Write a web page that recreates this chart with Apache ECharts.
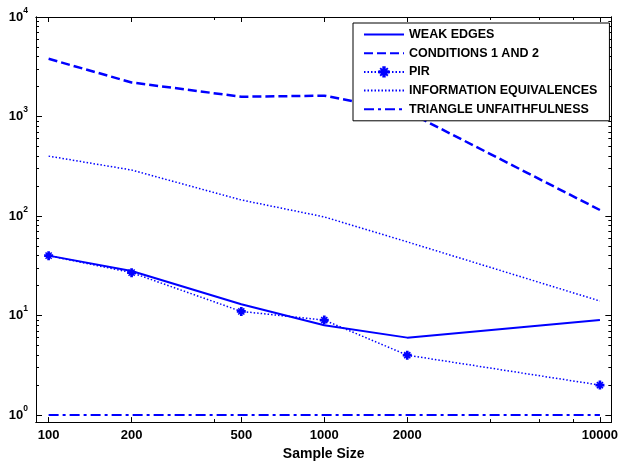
<!DOCTYPE html>
<html><head><meta charset="utf-8">
<script src="https://cdn.jsdelivr.net/npm/echarts@6/dist/echarts.min.js"></script>
<style>html,body{margin:0;padding:0;background:#fff}#c{width:621px;height:466px}</style>
</head><body><div id="c"></div>
<script>
const sampleSizes = [100, 200, 500, 1000, 2000, 10000];
const weakEdges = [40, 28, 13, 8, 6, 9];
const conditions12 = [3800, 2200, 1580, 1620, 1120, 115];
const pir = [40, 27, 11, 9, 4, 2];
const infoEquiv = [400, 290, 145, 98, 55, 14];
const triangleUnf = [1, 1, 1, 1, 1, 1];
const seriesNames = ['WEAK EDGES', 'CONDITIONS 1 AND 2', 'PIR', 'INFORMATION EQUIVALENCES', 'TRIANGLE UNFAITHFULNESS'];
const xTickLabels = [100, 200, 500, 1000, 2000, 10000];
const xMinorTicks = [400, 4000, 6000, 8000];
const yMajorTicks = [1, 10, 100, 1000, 10000];
const yMinorTicks = [];
[1, 10, 100, 1000].forEach(d => { for (let k = 2; k <= 9; k++) yMinorTicks.push(d * k); });

const FONT = '"Liberation Sans", Arial, sans-serif';
const BLUE = '#0000ff';
const X_MIN = 90, X_MAX = 11000, Y_MIN = 0.85, Y_MAX = 10000;

function xAx(pos, ticks, len, withLabel) {
  return {
    type: 'log', logBase: 10, min: X_MIN, max: X_MAX, position: pos,
    axisLine: { show: true, onZero: false, lineStyle: { color: '#000', width: 1 } },
    axisTick: { show: true, inside: true, length: len, customValues: ticks, lineStyle: { color: '#000', width: 1 } },
    axisLabel: withLabel ? { show: true, customValues: ticks, color: '#000', fontFamily: FONT, fontWeight: 'bold', fontSize: 13, margin: 7, formatter: v => String(v) } : { show: false },
    splitLine: { show: false }, minorTick: { show: false },
    name: withLabel ? 'Sample Size' : '', nameLocation: 'middle', nameGap: 21,
    nameTextStyle: { color: '#000', fontFamily: FONT, fontWeight: 'bold', fontSize: 14 }
  };
}
function yAx(pos, ticks, len, withLabel) {
  return {
    type: 'log', logBase: 10, min: Y_MIN, max: Y_MAX, position: pos,
    axisLine: { show: true, onZero: false, lineStyle: { color: '#000', width: 1 } },
    axisTick: { show: true, inside: true, length: len, customValues: ticks, lineStyle: { color: '#000', width: 1 } },
    axisLabel: withLabel ? {
      show: true, customValues: ticks, margin: 8,
      formatter: v => '{b|10}{s|' + Math.round(Math.log10(v)) + '}',
      rich: {
        b: { fontFamily: FONT, fontWeight: 'bold', fontSize: 13, color: '#000', lineHeight: 22 },
        s: { fontFamily: FONT, fontWeight: 'bold', fontSize: 8.5, color: '#000', lineHeight: 10, verticalAlign: 'top' }
      }
    } : { show: false },
    splitLine: { show: false }, minorTick: { show: false }
  };
}

const star = 'path://M3.5,0H6.5V3.5H10V6.5H6.5V10H3.5V6.5H0V3.5H3.5Z M1,2.2L2.2,1L9,7.8L7.8,9Z M7.8,1L9,2.2L2.2,9L1,7.8Z';

function mk(name, vals, lineStyle, extra) {
  return Object.assign({
    name: name, type: 'line', xAxisIndex: 0, yAxisIndex: 0,
    data: sampleSizes.map((x, i) => [x, vals[i]]),
    symbol: 'none', lineStyle: Object.assign({ color: BLUE }, lineStyle),
    itemStyle: { color: BLUE }, animation: false, silent: true
  }, extra || {});
}

const chart = echarts.init(document.getElementById('c'), null, { renderer: 'canvas' });
chart.setOption({
  backgroundColor: '#fff',
  animation: false,
  grid: { left: 36, right: 6, top: 17, bottom: 43, containLabel: false },
  xAxis: [
    xAx('bottom', xTickLabels, 5, true),
    xAx('bottom', xMinorTicks, 3, false),
    xAx('top', xTickLabels, 5, false),
    xAx('top', xMinorTicks, 3, false)
  ],
  yAxis: [
    yAx('left', yMajorTicks, 6, true),
    yAx('left', yMinorTicks, 3, false),
    yAx('right', yMajorTicks, 6, false),
    yAx('right', yMinorTicks, 3, false)
  ],
  legend: {
    left: 353, top: 23, orient: 'vertical',
    data: seriesNames.map(n => n === 'PIR' ? { name: n } : { name: n, itemStyle: { opacity: 0 } }),
    itemWidth: 40, itemHeight: 14, itemGap: 4.7,
    padding: [4.5, 12, 4.5, 10],
    backgroundColor: '#fff', borderColor: '#000', borderWidth: 1, borderRadius: 0,
    textStyle: { color: '#000', fontFamily: FONT, fontWeight: 'bold', fontSize: 12.5, lineHeight: 14 },
    selectedMode: false
  },
  series: [
    mk(seriesNames[0], weakEdges, { width: 2, type: 'solid' }),
    mk(seriesNames[1], conditions12, { width: 2.5, type: [9, 4] }),
    mk(seriesNames[2], pir, { width: 1.5, type: [1.5, 2] }, { symbol: star, symbolSize: 9, showSymbol: true }),
    mk(seriesNames[3], infoEquiv, { width: 1.5, type: [1.5, 2] }),
    mk(seriesNames[4], triangleUnf, { width: 2, type: [10, 4, 3, 4] })
  ]
});
</script>
</body></html>
